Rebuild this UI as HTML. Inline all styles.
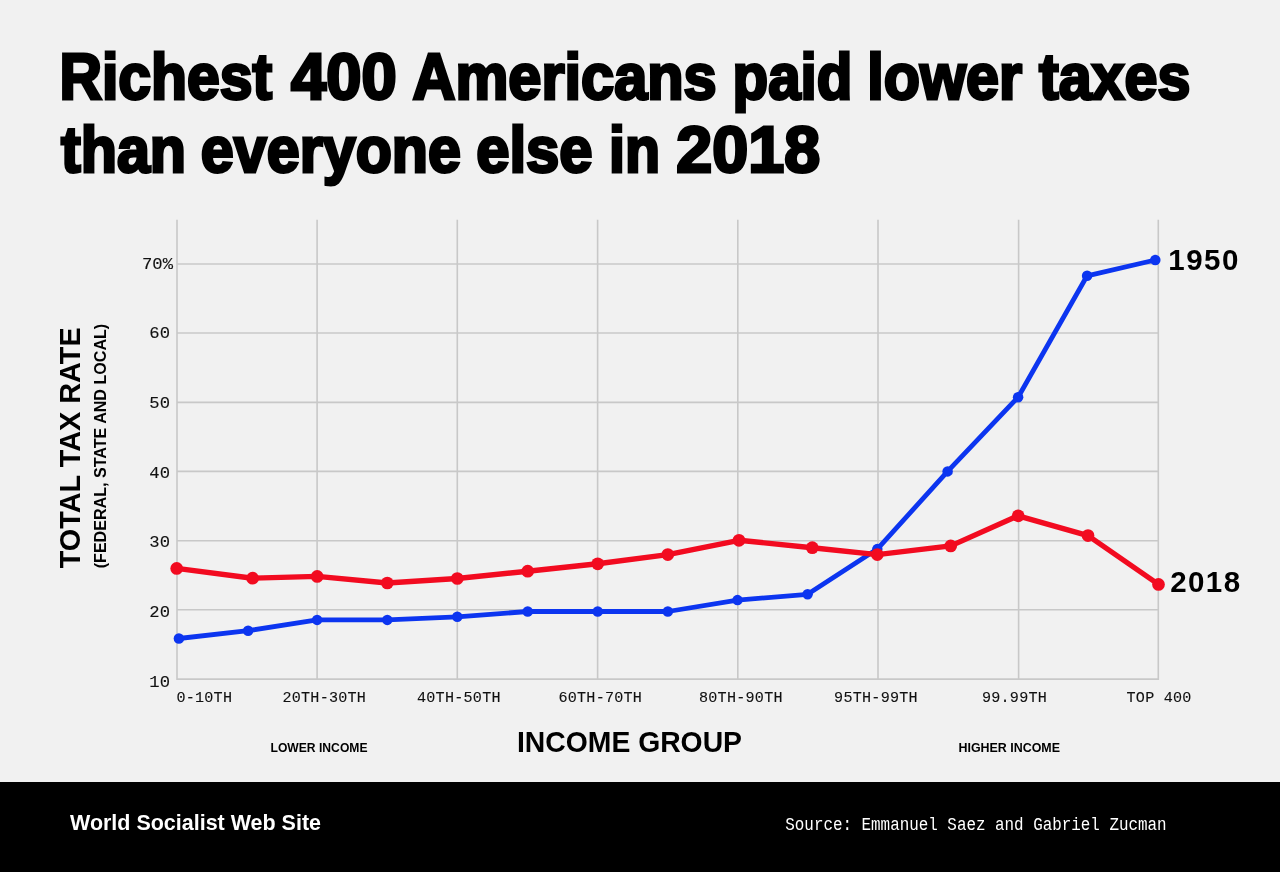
<!DOCTYPE html>
<html>
<head>
<meta charset="utf-8">
<title>Richest 400 Americans paid lower taxes than everyone else in 2018</title>
<style>
html,body{margin:0;padding:0;background:#f1f1f1;}
body{width:1280px;height:872px;overflow:hidden;font-family:"Liberation Sans",sans-serif;}
svg{display:block;will-change:transform;}
.sans{font-family:"Liberation Sans",sans-serif;font-weight:bold;}
.mono{font-family:"Liberation Mono",monospace;}
.title{font-size:64.5px;fill:#000;stroke:#000;stroke-width:3px;stroke-linejoin:miter;stroke-miterlimit:3;}
.grid line{stroke:#c8c8c8;stroke-width:1.6;}
.tick{font-size:15.1px;fill:#111;letter-spacing:0.25px;stroke:#111;stroke-width:0.12px;}
.ytick{font-size:17.2px;fill:#111;stroke:#111;stroke-width:0.12px;}
</style>
</head>
<body>
<svg width="1280" height="872" viewBox="0 0 1280 872">
<rect x="0" y="0" width="1280" height="872" fill="#f1f1f1"/>

<!-- title -->
<text class="sans title" x="59.44" y="99.4" textLength="212.65" lengthAdjust="spacingAndGlyphs">Richest</text>
<text class="sans title" x="290.98" y="99.4" textLength="105.68" lengthAdjust="spacingAndGlyphs">400</text>
<text class="sans title" x="412.43" y="99.4" textLength="304.26" lengthAdjust="spacingAndGlyphs">Americans</text>
<text class="sans title" x="732.57" y="99.4" textLength="119.81" lengthAdjust="spacingAndGlyphs">paid</text>
<text class="sans title" x="867.25" y="99.4" textLength="154.76" lengthAdjust="spacingAndGlyphs">lower</text>
<text class="sans title" x="1038.92" y="99.4" textLength="151.48" lengthAdjust="spacingAndGlyphs">taxes</text>
<text class="sans title" x="60.92" y="172.4" textLength="125.18" lengthAdjust="spacingAndGlyphs">than</text>
<text class="sans title" x="200.87" y="172.4" textLength="260.07" lengthAdjust="spacingAndGlyphs">everyone</text>
<text class="sans title" x="476.16" y="172.4" textLength="116.42" lengthAdjust="spacingAndGlyphs">else</text>
<text class="sans title" x="609.11" y="172.4" textLength="51.02" lengthAdjust="spacingAndGlyphs">in</text>
<text class="sans title" x="676.33" y="172.4" textLength="143.81" lengthAdjust="spacingAndGlyphs">2018</text>

<!-- grid -->
<g class="grid">
<line x1="177" y1="264" x2="1158.9" y2="264"/>
<line x1="177" y1="333.05" x2="1158.9" y2="333.05"/>
<line x1="177" y1="402.35" x2="1158.9" y2="402.35"/>
<line x1="177" y1="471.4" x2="1158.9" y2="471.4"/>
<line x1="177" y1="540.75" x2="1158.9" y2="540.75"/>
<line x1="177" y1="609.8" x2="1158.9" y2="609.8"/>
<line x1="177" y1="679.15" x2="1158.9" y2="679.15"/>
<line x1="177" y1="219.7" x2="177" y2="679.9"/>
<line x1="317.1" y1="219.7" x2="317.1" y2="679.9"/>
<line x1="457.3" y1="219.7" x2="457.3" y2="679.9"/>
<line x1="597.6" y1="219.7" x2="597.6" y2="679.9"/>
<line x1="737.8" y1="219.7" x2="737.8" y2="679.9"/>
<line x1="878" y1="219.7" x2="878" y2="679.9"/>
<line x1="1018.6" y1="219.7" x2="1018.6" y2="679.9"/>
<line x1="1158.3" y1="219.7" x2="1158.3" y2="679.9"/>
</g>

<!-- y ticks -->
<g class="mono ytick" text-anchor="end">
<text x="173" y="268.6">70%</text>
<text x="170" y="338.2">60</text>
<text x="170" y="408.4">50</text>
<text x="170" y="477.6">40</text>
<text x="170" y="547">30</text>
<text x="170" y="616.6">20</text>
<text x="170" y="686.6">10</text>
</g>

<!-- x ticks -->
<g class="mono tick">
<text x="176.4" y="702">0-10TH</text>
<text x="324.3" y="702" text-anchor="middle">20TH-30TH</text>
<text x="458.9" y="702" text-anchor="middle">40TH-50TH</text>
<text x="600.3" y="702" text-anchor="middle">60TH-70TH</text>
<text x="740.9" y="702" text-anchor="middle">80TH-90TH</text>
<text x="876" y="702" text-anchor="middle">95TH-99TH</text>
<text x="1014.5" y="702" text-anchor="middle">99.99TH</text>
<text x="1159.1" y="702" text-anchor="middle">TOP 400</text>
</g>

<!-- blue line 1950 -->
<g fill="#0c35f0" stroke="none">
<polyline fill="none" stroke="#0c35f0" stroke-width="4.8" stroke-linejoin="round" stroke-linecap="round"
 points="178.9,638.5 248.1,630.7 317.1,619.9 387.3,619.9 457.3,616.8 527.7,611.5 597.7,611.5 667.8,611.5 737.5,600.1 807.6,594.3 877.3,549.1 947.6,471.4 1018.1,397.2 1087.1,275.8 1155.3,260"/>
<circle cx="178.9" cy="638.5" r="5.25"/><circle cx="248.1" cy="630.7" r="5.25"/><circle cx="317.1" cy="619.9" r="5.25"/><circle cx="387.3" cy="619.9" r="5.25"/><circle cx="457.3" cy="616.8" r="5.25"/><circle cx="527.7" cy="611.5" r="5.25"/><circle cx="597.7" cy="611.5" r="5.25"/><circle cx="667.8" cy="611.5" r="5.25"/><circle cx="737.5" cy="600.1" r="5.25"/><circle cx="807.6" cy="594.3" r="5.25"/><circle cx="877.3" cy="549.1" r="5.25"/><circle cx="947.6" cy="471.4" r="5.25"/><circle cx="1018.1" cy="397.2" r="5.25"/><circle cx="1087.1" cy="275.8" r="5.25"/><circle cx="1155.3" cy="260" r="5.25"/>
</g>

<!-- red line 2018 -->
<g fill="#f20b20" stroke="none">
<polyline fill="none" stroke="#f20b20" stroke-width="5.4" stroke-linejoin="round" stroke-linecap="round"
 points="176.7,568.4 252.6,578.2 317.2,576.4 387.3,583 457.3,578.5 527.7,571.2 597.7,563.8 667.8,554.6 739,540.3 812.3,547.7 877.3,554.6 950.7,545.9 1018.2,515.8 1088,535.6 1158.5,584.4"/>
<circle cx="176.7" cy="568.4" r="6.35"/><circle cx="252.6" cy="578.2" r="6.35"/><circle cx="317.2" cy="576.4" r="6.35"/><circle cx="387.3" cy="583" r="6.35"/><circle cx="457.3" cy="578.5" r="6.35"/><circle cx="527.7" cy="571.2" r="6.35"/><circle cx="597.7" cy="563.8" r="6.35"/><circle cx="667.8" cy="554.6" r="6.35"/><circle cx="739" cy="540.3" r="6.35"/><circle cx="812.3" cy="547.7" r="6.35"/><circle cx="877.3" cy="554.6" r="6.35"/><circle cx="950.7" cy="545.9" r="6.35"/><circle cx="1018.2" cy="515.8" r="6.35"/><circle cx="1088" cy="535.6" r="6.35"/><circle cx="1158.5" cy="584.4" r="6.35"/>
</g>

<!-- series labels -->
<text class="sans" font-size="29.5" x="1168.3" y="269.5" textLength="70.1" lengthAdjust="spacing">1950</text>
<text class="sans" font-size="29.5" x="1170.2" y="592" textLength="69.9" lengthAdjust="spacing">2018</text>

<!-- axis titles -->
<text class="sans" font-size="29.4" x="517" y="751.6" textLength="225" lengthAdjust="spacingAndGlyphs">INCOME GROUP</text>
<text class="sans" font-size="13" x="270.5" y="751.6" textLength="97" lengthAdjust="spacingAndGlyphs">LOWER INCOME</text>
<text class="sans" font-size="13" x="958.5" y="751.6" textLength="101.5" lengthAdjust="spacingAndGlyphs">HIGHER INCOME</text>

<g transform="translate(80.3,568.3) rotate(-90)">
<text class="sans" font-size="29.4" x="0" y="0" textLength="241" lengthAdjust="spacingAndGlyphs">TOTAL TAX RATE</text>
</g>
<g transform="translate(105.7,568.3) rotate(-90)">
<text class="sans" font-size="16" x="0" y="0" textLength="244.5" lengthAdjust="spacingAndGlyphs">(FEDERAL, STATE AND LOCAL)</text>
</g>

<!-- footer -->
<rect x="0" y="782" width="1280" height="90" fill="#000"/>
<text class="sans" font-size="22.2" x="70" y="830" fill="#fff" textLength="251" lengthAdjust="spacingAndGlyphs">World Socialist Web Site</text>
<text class="mono" font-size="18" x="785.3" y="830.4" fill="#fff" textLength="381.3" lengthAdjust="spacingAndGlyphs">Source: Emmanuel Saez and Gabriel Zucman</text>
</svg>
</body>
</html>
